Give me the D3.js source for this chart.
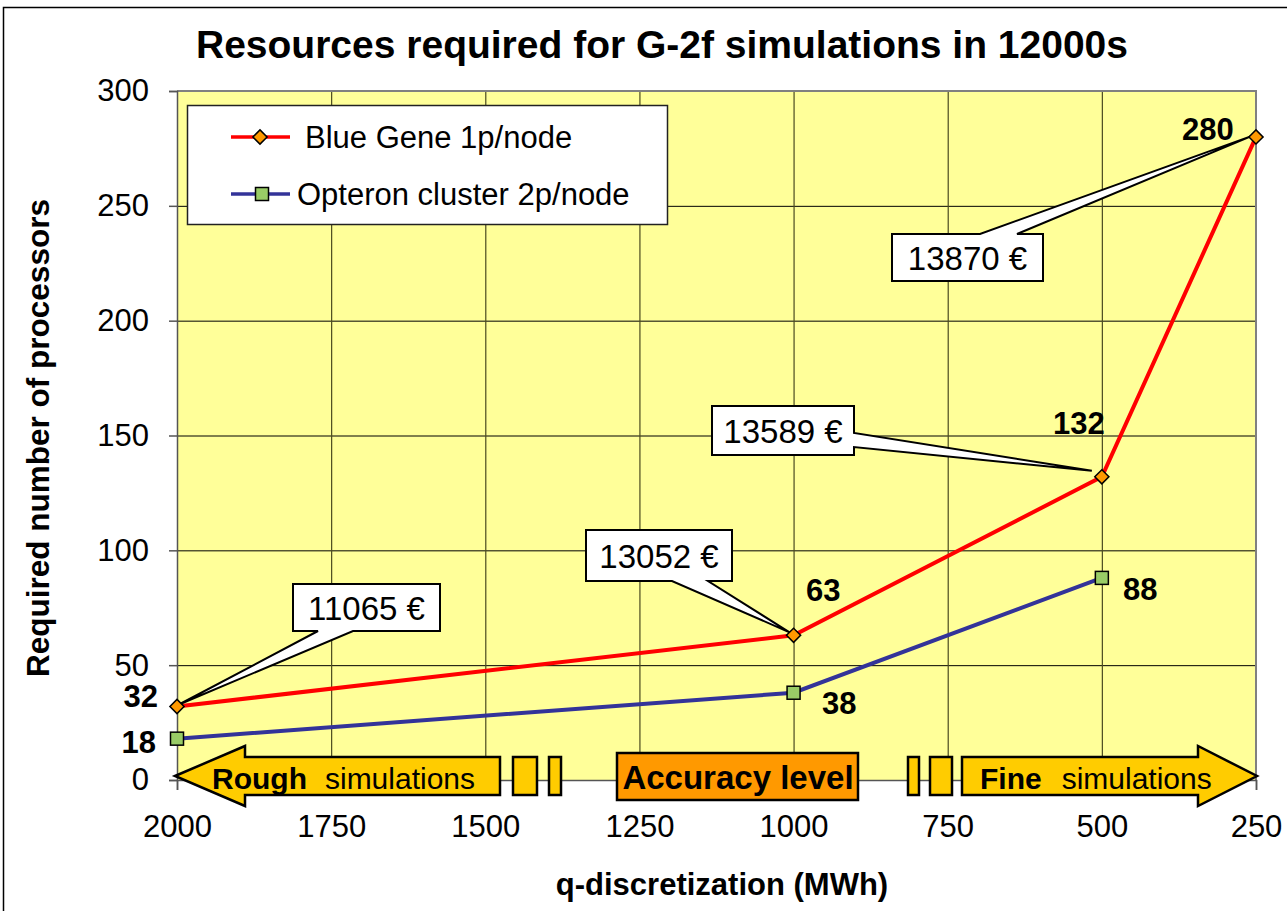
<!DOCTYPE html>
<html>
<head>
<meta charset="utf-8">
<script src="https://cdn.jsdelivr.net/npm/d3@7"></script>
<style>
  body { margin: 0; background: #fff; }
  svg { display: block; font-family: "Liberation Sans", Arial, sans-serif; }
</style>
</head>
<body>
<div id="chart"></div>
<script>
// Data
const qValues = [2000, 1000, 500, 250];
const blueGene = [32, 63, 132, 280];
const opteronQ = [2000, 1000, 500];
const opteron = [18, 38, 88];
const costs = ["11065 €", "13052 €", "13589 €", "13870 €"];
const xTicks = [2000, 1750, 1500, 1250, 1000, 750, 500, 250];
const yTicks = [0, 50, 100, 150, 200, 250, 300];
const seriesNames = ["Blue Gene 1p/node", "Opteron cluster 2p/node"];

const width = 1287, height = 911;
const plot = { left: 177, right: 1256, top: 91, bottom: 780 };

const svg = d3.select("#chart").append("svg")
    .attr("width", width)
    .attr("height", height);

// outer frame
svg.append("rect")
    .attr("x", 3.5).attr("y", 7.5)
    .attr("width", 1300).attr("height", 950)
    .attr("fill", "#fff")
    .attr("stroke", "#000")
    .attr("stroke-width", 1.5);

const xScale = d3.scaleLinear().domain([2000, 250]).range([plot.left, plot.right]);
const yScale = d3.scaleLinear().domain([0, 300]).range([plot.bottom, plot.top]);

// plot background
svg.append("rect")
    .attr("x", plot.left).attr("y", plot.top)
    .attr("width", plot.right - plot.left)
    .attr("height", plot.bottom - plot.top)
    .attr("fill", "#FFFF99");

// gridlines
svg.append("g").selectAll("line")
    .data(yTicks.filter(d => d > 0 && d < 300))
    .enter().append("line")
    .attr("x1", plot.left).attr("x2", plot.right)
    .attr("y1", d => yScale(d) + 0.5).attr("y2", d => yScale(d) + 0.5)
    .attr("stroke", "#000").attr("stroke-width", 1);

svg.append("g").selectAll("line")
    .data(xTicks.filter(d => d < 2000 && d > 250))
    .enter().append("line")
    .attr("x1", d => xScale(d) + 0.5).attr("x2", d => xScale(d) + 0.5)
    .attr("y1", plot.top).attr("y2", plot.bottom)
    .attr("stroke", "#4a4a20").attr("stroke-width", 1.2);

// plot border top / right
svg.append("path")
    .attr("d", `M${plot.left},${plot.top} H${plot.right} V${plot.bottom}`)
    .attr("fill", "none")
    .attr("stroke", "#808080")
    .attr("stroke-width", 2);

// axes
const yAxis = d3.axisLeft(yScale).tickValues(yTicks).tickSize(8).tickPadding(20);
const yAxisG = svg.append("g")
    .attr("transform", `translate(${plot.left},0)`)
    .call(yAxis);
yAxisG.select(".domain").attr("stroke", "#555").attr("stroke-width", 1.5);
yAxisG.selectAll(".tick line").attr("stroke", "#555").attr("stroke-width", 1.5);
yAxisG.selectAll("text")
    .style("font-size", "31px")
    .style("font-family", "Liberation Sans, Arial, sans-serif")
    .attr("fill", "#000");

const xAxis = d3.axisBottom(xScale).tickValues(xTicks).tickSize(10)
    .tickPadding(25).tickFormat(d3.format("d"));
const xAxisG = svg.append("g")
    .attr("transform", `translate(0,${plot.bottom})`)
    .call(xAxis);
xAxisG.select(".domain").attr("stroke", "#555").attr("stroke-width", 1.5);
xAxisG.selectAll(".tick line").attr("stroke", "#555").attr("stroke-width", 1.5);
xAxisG.selectAll("text")
    .style("font-size", "31px")
    .style("font-family", "Liberation Sans, Arial, sans-serif")
    .attr("fill", "#000");

// title
svg.append("text")
    .attr("x", 662).attr("y", 58)
    .attr("text-anchor", "middle")
    .style("font-size", "39px")
    .style("font-weight", "bold")
    .text("Resources required for G-2f simulations in 12000s");

// axis titles
svg.append("text")
    .attr("x", 722).attr("y", 895)
    .attr("text-anchor", "middle")
    .style("font-size", "31px")
    .style("font-weight", "bold")
    .text("q-discretization (MWh)");

svg.append("text")
    .attr("transform", `translate(49, 438) rotate(-90)`)
    .attr("text-anchor", "middle")
    .style("font-size", "31.5px")
    .style("font-weight", "bold")
    .text("Required number of processors");

// accuracy band along the x axis
const band = svg.append("g")
    .attr("stroke", "#000")
    .attr("stroke-width", 2.5)
    .attr("stroke-linejoin", "miter");

band.append("path")
    .attr("d", "M175,776 L245,746 V757 H500 V795 H245 V806 Z")
    .attr("fill", "#FFCC00");
band.append("rect").attr("x", 513).attr("y", 757).attr("width", 24).attr("height", 38).attr("fill", "#FFCC00");
band.append("rect").attr("x", 549).attr("y", 757).attr("width", 12).attr("height", 38).attr("fill", "#FFCC00");
band.append("rect").attr("x", 617).attr("y", 753).attr("width", 241).attr("height", 47).attr("fill", "#FF9900");
band.append("rect").attr("x", 908).attr("y", 757).attr("width", 11).attr("height", 38).attr("fill", "#FFCC00");
band.append("rect").attr("x", 930).attr("y", 757).attr("width", 22).attr("height", 38).attr("fill", "#FFCC00");
band.append("path")
    .attr("d", "M962,757 H1198 V746 L1257,776 L1198,806 V795 H962 Z")
    .attr("fill", "#FFCC00");

const bandText = svg.append("g").style("font-size", "30px");
bandText.append("text")
    .attr("x", 212).attr("y", 789)
    .html('<tspan font-weight="bold">Rough</tspan><tspan dx="18">simulations</tspan>');
bandText.append("text")
    .attr("x", 738).attr("y", 789)
    .attr("text-anchor", "middle")
    .style("font-weight", "bold")
    .style("font-size", "33px")
    .text("Accuracy level");
bandText.append("text")
    .attr("x", 980).attr("y", 789)
    .html('<tspan font-weight="bold">Fine</tspan><tspan dx="20">simulations</tspan>');

// lines
const bgData = qValues.map((q, i) => ({ q: q, v: blueGene[i] }));
const opData = opteronQ.map((q, i) => ({ q: q, v: opteron[i] }));

const line = d3.line().x(d => xScale(d.q)).y(d => yScale(d.v));

svg.append("path").datum(opData)
    .attr("d", line)
    .attr("fill", "none")
    .attr("stroke", "#333399")
    .attr("stroke-width", 4);

svg.append("path").datum(bgData)
    .attr("d", line)
    .attr("fill", "none")
    .attr("stroke", "#FF0000")
    .attr("stroke-width", 4);

// cost callouts (box layout in pixels, tip follows the data point)
const calloutBoxes = [
    { x0: 293, y0: 584, x1: 440, y1: 631, side: "bottom", a: 318, b: 353 },
    { x0: 586, y0: 530, x1: 732, y1: 581, side: "bottom", a: 672, b: 708 },
    { x0: 712, y0: 406, x1: 854, y1: 455, side: "right", a: 433, b: 447 },
    { x0: 892, y0: 234, x1: 1043, y1: 281, side: "top", a: 980, b: 1017 }
];

function calloutPath(c, tx, ty) {
    if (c.side === "bottom") {
        return `M${c.x0},${c.y0} H${c.x1} V${c.y1} H${c.b} L${tx},${ty} L${c.a},${c.y1} H${c.x0} Z`;
    }
    if (c.side === "right") {
        return `M${c.x0},${c.y0} H${c.x1} V${c.a} L${tx},${ty} L${c.x1},${c.b} V${c.y1} H${c.x0} Z`;
    }
    return `M${c.x0},${c.y0} H${c.a} L${tx},${ty} L${c.b},${c.y0} H${c.x1} V${c.y1} H${c.x0} Z`;
}

const tipOffset = [[2, -2], [-4, -3], [-10, -6], [-4, -1]];
costs.forEach((label, i) => {
    const c = calloutBoxes[i];
    const tx = xScale(qValues[i]) + tipOffset[i][0];
    const ty = yScale(blueGene[i]) + tipOffset[i][1];
    svg.append("path")
        .attr("d", calloutPath(c, tx, ty))
        .attr("fill", "#fff")
        .attr("stroke", "#000")
        .attr("stroke-width", 2)
        .attr("stroke-linejoin", "miter");
    svg.append("text")
        .attr("x", (c.x0 + c.x1) / 2)
        .attr("y", (c.y0 + c.y1) / 2 + 12)
        .attr("text-anchor", "middle")
        .style("font-size", "33px")
        .text(label);
});

// markers
svg.append("g").selectAll("rect")
    .data(opData).enter().append("rect")
    .attr("x", d => xScale(d.q) - 6.5)
    .attr("y", d => yScale(d.v) - 6.5)
    .attr("width", 13).attr("height", 13)
    .attr("fill", "#99CC66")
    .attr("stroke", "#000")
    .attr("stroke-width", 1.5);

svg.append("g").selectAll("path")
    .data(bgData).enter().append("path")
    .attr("d", d3.symbol().type(d3.symbolSquare).size(100))
    .attr("transform", d => `translate(${xScale(d.q)},${yScale(d.v)}) rotate(45)`)
    .attr("fill", "#FF9900")
    .attr("stroke", "#000")
    .attr("stroke-width", 1.5);

// value labels
const bgLabelPos = [[158, 707, "end"], [806, 601, "start"], [1053, 434, "start"], [1182, 140, "start"]];
const opLabelPos = [[156, 753, "end"], [822, 714, "start"], [1123, 600, "start"]];

svg.append("g").selectAll("text")
    .data(blueGene).enter().append("text")
    .attr("x", (d, i) => bgLabelPos[i][0])
    .attr("y", (d, i) => bgLabelPos[i][1])
    .attr("text-anchor", (d, i) => bgLabelPos[i][2])
    .style("font-size", "31px")
    .style("font-weight", "bold")
    .text(d => d);

svg.append("g").selectAll("text")
    .data(opteron).enter().append("text")
    .attr("x", (d, i) => opLabelPos[i][0])
    .attr("y", (d, i) => opLabelPos[i][1])
    .attr("text-anchor", (d, i) => opLabelPos[i][2])
    .style("font-size", "31px")
    .style("font-weight", "bold")
    .text(d => d);

// legend
const legend = svg.append("g");
legend.append("rect")
    .attr("x", 187.5).attr("y", 105.5)
    .attr("width", 480).attr("height", 119)
    .attr("fill", "#fff")
    .attr("stroke", "#222")
    .attr("stroke-width", 1.5);

const legendItems = [
    { name: seriesNames[0], color: "#FF0000", fill: "#FF9900", y: 137, tx: 305, shape: "diamond" },
    { name: seriesNames[1], color: "#333399", fill: "#99CC66", y: 194, tx: 297, shape: "square" }
];

legendItems.forEach(item => {
    legend.append("line")
        .attr("x1", 231).attr("x2", 290)
        .attr("y1", item.y).attr("y2", item.y)
        .attr("stroke", item.color)
        .attr("stroke-width", 3.5);
    if (item.shape === "diamond") {
        legend.append("path")
            .attr("d", d3.symbol().type(d3.symbolSquare).size(100))
            .attr("transform", `translate(260,${item.y}) rotate(45)`)
            .attr("fill", item.fill)
            .attr("stroke", "#000")
            .attr("stroke-width", 1.5);
    } else {
        legend.append("rect")
            .attr("x", 255.5).attr("y", item.y - 6.5)
            .attr("width", 13).attr("height", 13)
            .attr("fill", item.fill)
            .attr("stroke", "#000")
            .attr("stroke-width", 1.5);
    }
    legend.append("text")
        .attr("x", item.tx).attr("y", item.y + 11)
        .style("font-size", "31px")
        .text(item.name);
});
</script>
</body>
</html>
